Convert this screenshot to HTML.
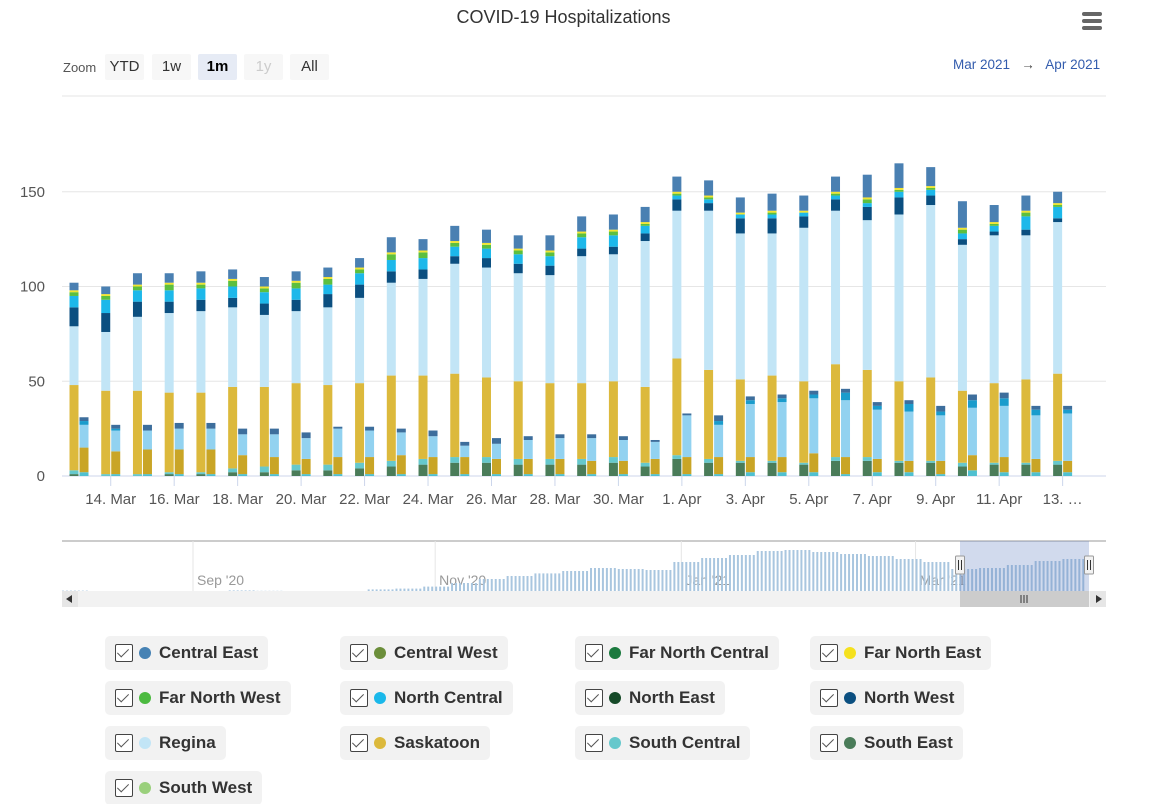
<!DOCTYPE html>
<html><head><meta charset="utf-8">
<style>
body{margin:0;background:#fff;font-family:"Liberation Sans",sans-serif;}
#wrap{position:relative;width:1165px;height:804px;overflow:hidden;}
.btn{position:absolute;top:54px;height:26px;line-height:26px;text-align:center;font-size:15px;color:#333;background:#f7f7f7;border-radius:2px;}
.leg{position:absolute;height:34px;background:#f2f2f2;border-radius:5px;display:flex;align-items:center;padding:0 10px 0 10px;font-size:17px;font-weight:bold;color:#333;}
.cb{width:18px;height:18px;border:1.5px solid #444;border-radius:2px;box-sizing:border-box;margin-right:6px;position:relative;background:#fff;}
.cb:after{content:"";position:absolute;left:4px;top:1px;width:5px;height:10px;border:solid #555;border-width:0 1.5px 1.5px 0;transform:rotate(45deg);}
.dot{width:12px;height:12px;border-radius:50%;margin-right:8px;}
</style></head><body>
<div id="wrap">
<div style="position:absolute;left:0;width:1127px;top:7px;text-align:center;font-size:18px;color:#333;">COVID-19 Hospitalizations</div>
<div style="position:absolute;left:1082px;top:12px;width:20px;height:18px;">
<div style="height:4px;background:#666;border-radius:2px;margin-bottom:3px"></div><div style="height:4px;background:#666;border-radius:2px;margin-bottom:3px"></div><div style="height:4px;background:#666;border-radius:2px"></div></div>
<div style="position:absolute;left:63px;top:60px;font-size:13px;color:#555;">Zoom</div>
<div class="btn" style="left:105px;width:39px;">YTD</div>
<div class="btn" style="left:152px;width:39px;">1w</div>
<div class="btn" style="left:198px;width:39px;background:#e6ebf5;font-weight:bold;color:#000;">1m</div>
<div class="btn" style="left:244px;width:39px;color:#ccc;">1y</div>
<div class="btn" style="left:290px;width:39px;">All</div>
<div style="position:absolute;left:953px;top:57px;font-size:13.5px;color:#335cad;white-space:nowrap;">Mar 2021 &nbsp;&nbsp;<span style="color:#444">→</span>&nbsp;&nbsp; Apr 2021</div>
<svg id="svg" width="1165" height="620" style="position:absolute;left:0;top:0"></svg>
<div id="legend"></div>
</div>
<script>
const categories=["13 Mar","14 Mar","15 Mar","16 Mar","17 Mar","18 Mar","19 Mar","20 Mar","21 Mar","22 Mar","23 Mar","24 Mar","25 Mar","26 Mar","27 Mar","28 Mar","29 Mar","30 Mar","31 Mar","1. Apr","2. Apr","3. Apr","4. Apr","5. Apr","6. Apr","7. Apr","8. Apr","9. Apr","10. Apr","11. Apr","12. Apr","13. Apr"];
const tickLabels=["14. Mar","16. Mar","18. Mar","20. Mar","22. Mar","24. Mar","26. Mar","28. Mar","30. Mar","1. Apr","3. Apr","5. Apr","7. Apr","9. Apr","11. Apr","13. …"];
const yTicks=[0,50,100,150];
// inpatient stack
const hSE=[1,0,0,1,1,2,2,3,3,4,5,6,7,7,6,6,6,7,5,9,7,7,7,6,8,8,7,7,5,6,6,6];
const hSC=[2,1,1,1,1,2,3,3,3,3,3,3,3,3,3,3,3,3,2,2,2,1,1,1,2,2,1,1,2,1,1,2];
const hSK=[45,44,44,42,42,43,42,43,42,42,45,44,44,42,41,40,40,40,40,51,47,43,45,43,49,46,42,44,38,42,44,46];
const hRG=[31,31,39,42,43,42,38,38,41,45,49,51,58,58,57,57,67,67,77,78,84,77,75,81,81,79,88,91,77,78,76,80];
const hNW=[10,10,8,6,6,5,6,6,7,7,6,5,4,5,5,5,4,4,4,6,4,8,8,6,6,7,9,5,3,2,3,2];
const hNC=[6,7,6,6,6,6,6,6,5,6,6,6,5,5,5,5,6,6,4,2,2,2,2,2,2,2,3,3,3,3,7,6];
const hFNW=[2,2,2,3,2,3,2,3,3,2,3,3,2,2,2,2,2,2,1,1,1,0,1,0,1,2,1,1,2,1,2,1];
const hFNE=[1,1,1,1,1,1,1,1,1,1,1,1,1,1,1,1,1,1,1,1,1,1,1,1,1,1,1,1,1,1,1,1];
const hCE=[4,4,6,5,6,5,5,5,5,5,8,6,8,7,7,8,8,8,8,8,8,8,9,8,8,12,13,10,14,9,8,6];
// ICU stack
const iSC=[2,1,1,1,1,1,1,1,1,1,1,1,1,1,1,1,1,1,1,1,1,2,2,2,1,2,2,1,3,2,2,2];
const iSK=[13,12,13,13,13,10,9,8,9,9,10,9,9,8,8,8,7,7,8,9,9,8,8,10,9,7,6,7,8,8,7,6];
const iRG=[12,11,10,11,11,11,12,11,15,14,12,11,6,8,10,11,12,11,9,22,17,28,29,29,30,26,26,24,25,27,23,25];
const iNC=[2,1,0,0,0,0,0,0,0,0,0,0,0,0,0,0,0,0,0,0,2,2,2,2,4,2,4,2,4,4,3,2];
const iCE=[2,2,3,3,3,3,3,3,1,2,2,3,2,3,2,2,2,2,1,1,3,2,2,2,2,2,2,3,3,3,2,2];
// navigator weekly totals (from 30 Jul 2020)
const navWeekly=[2,0,0,0,0,0,3,1,0,0,0,8,12,22,40,60,75,88,100,115,110,105,145,165,180,200,205,195,185,175,160,145,110,115,130,150,160];
const navLabels=["Sep '20","Nov '20","Jan '21","Mar '21"];
const navLabelDays=[33,94,156,215];

const NS="http://www.w3.org/2000/svg";
const svg=document.getElementById('svg');
function mk(t,a,p){const e=document.createElementNS(NS,t);for(const k in a)e.setAttribute(k,a[k]);(p||svg).appendChild(e);return e;}
const y0=476,pxU=1.895;
const yS=v=>y0-v*pxU;
const xS=i=>74+i*31.73;
yTicks.forEach(t=>{
  const g=mk('line',{x1:62,x2:1106,y1:yS(t),y2:yS(t),stroke:t===0?'#ccd6eb':'#e6e6e6','stroke-width':1});
  
  
  const l=mk('text',{x:45,y:yS(t)+5,'text-anchor':'end','font-size':15,fill:'#555','font-family':'Liberation Sans'});
  l.textContent=t;
  
  
});
mk('line',{x1:62,x2:1106,y1:96,y2:96,stroke:'#e6e6e6'});
const hSeries=[[hSE,'#4a7c59','south-east'],[hSC,'#66c8cc','south-central'],[hSK,'#dcb93c','saskatoon'],[hRG,'#c2e5f6','regina'],[hNW,'#0b4f80','north-west'],[hNC,'#1db8ea','north-central'],[hFNW,'#5cbf3f','far-north-west'],[hFNE,'#f2e530','far-north-east'],[hCE,'#4a80b2','central-east']];
const iSeries=[[iSC,'#4fc0d0','south-central'],[iSK,'#c9a526','saskatoon'],[iRG,'#92d2f0','regina'],[iNC,'#1a9ccc','north-central'],[iCE,'#3d6e9c','central-east']];
categories.forEach((c,i)=>{
  let acc=0;
  hSeries.forEach(s=>{const v=s[0][i];if(v<=0)return;
    const r=mk('rect',{x:xS(i)-4.5,y:yS(acc+v),width:9,height:v*pxU,fill:s[1]});
    
    
    acc+=v;});
  acc=0;
  iSeries.forEach(s=>{const v=s[0][i];if(v<=0)return;
    const r=mk('rect',{x:xS(i)+5.5,y:yS(acc+v),width:9,height:v*pxU,fill:s[1]});
    
    
    acc+=v;});
});
tickLabels.forEach((t,k)=>{
  const x=xS(1+2*k)+5;
  mk('line',{x1:x,x2:x,y1:476,y2:486,stroke:'#ccd6eb'});
  const l=mk('text',{x:x,y:504,'text-anchor':'middle','font-size':15,fill:'#555','font-family':'Liberation Sans'});
  l.textContent=t;
  
  
});
const nav=mk('g',{});


mk('line',{x1:62,x2:1106,y1:541,y2:541,stroke:'#ccc','stroke-width':2},nav);
const dX=d=>62+d*3.97;
navLabels.forEach((t,k)=>{
  mk('line',{x1:dX(navLabelDays[k]),x2:dX(navLabelDays[k]),y1:541,y2:591,stroke:'#e6e6e6'},nav);
  const l=mk('text',{x:dX(navLabelDays[k])+4,y:585,'font-size':14,fill:'#999','font-family':'Liberation Sans'},nav);
  l.textContent=t;
  
  
});
navWeekly.forEach((v,w)=>{for(let d=0;d<7;d++){const day=w*7+d;if(day>257||v<=0)continue;
  mk('rect',{x:dX(day),y:591-v*0.2,width:2,height:v*0.2,fill:'#a9c6df'},nav);}});
mk('rect',{x:960,y:541,width:129,height:50,fill:'rgba(102,133,194,0.3)'},nav);
[960,1089].forEach(x=>{const h=mk('rect',{x:x-4.5,y:556,width:9,height:18,fill:'#f2f2f2',stroke:'#999',rx:1},nav);
  
  mk('line',{x1:x-1.5,x2:x-1.5,y1:560,y2:570,stroke:'#333'},nav);mk('line',{x1:x+1.5,x2:x+1.5,y1:560,y2:570,stroke:'#333'},nav);});
mk('rect',{x:62,y:591,width:1044,height:16,fill:'#f2f2f2'},nav);
mk('rect',{x:960,y:591,width:129,height:16,fill:'#cccccc'},nav);
[1021,1024,1027].forEach(x=>mk('line',{x1:x,x2:x,y1:595,y2:603,stroke:'#333'},nav));
mk('rect',{x:62,y:591,width:16,height:16,fill:'#e6e6e6'},nav);
mk('rect',{x:1090,y:591,width:16,height:16,fill:'#e6e6e6'},nav);
mk('path',{d:'M72 595 L66 599 L72 603 Z',fill:'#333'},nav);
mk('path',{d:'M1096 595 L1102 599 L1096 603 Z',fill:'#333'},nav);
const legNames=["Central East","Central West","Far North Central","Far North East","Far North West","North Central","North East","North West","Regina","Saskatoon","South Central","South East","South West"];
const legColors=["#4682b4","#6b8e3a","#1b7a3e","#f5e11e","#4cba40","#1ab8ea","#164a28","#0b4f80","#c2e5f6","#dcb93c","#66c8cc","#4a7c59","#9ad07c"];
const leg=document.getElementById('legend');
legNames.forEach((n,k)=>{
  const d=document.createElement('div');
  d.className='leg';
  d.style.left=(105+235*(k%4))+'px';
  d.style.top=(636+45*Math.floor(k/4))+'px';
  d.innerHTML='<div class="cb"></div><div class="dot" style="background:'+legColors[k]+'"></div>'+n;
  
  
  leg.appendChild(d);
});
</script>
</body></html>
